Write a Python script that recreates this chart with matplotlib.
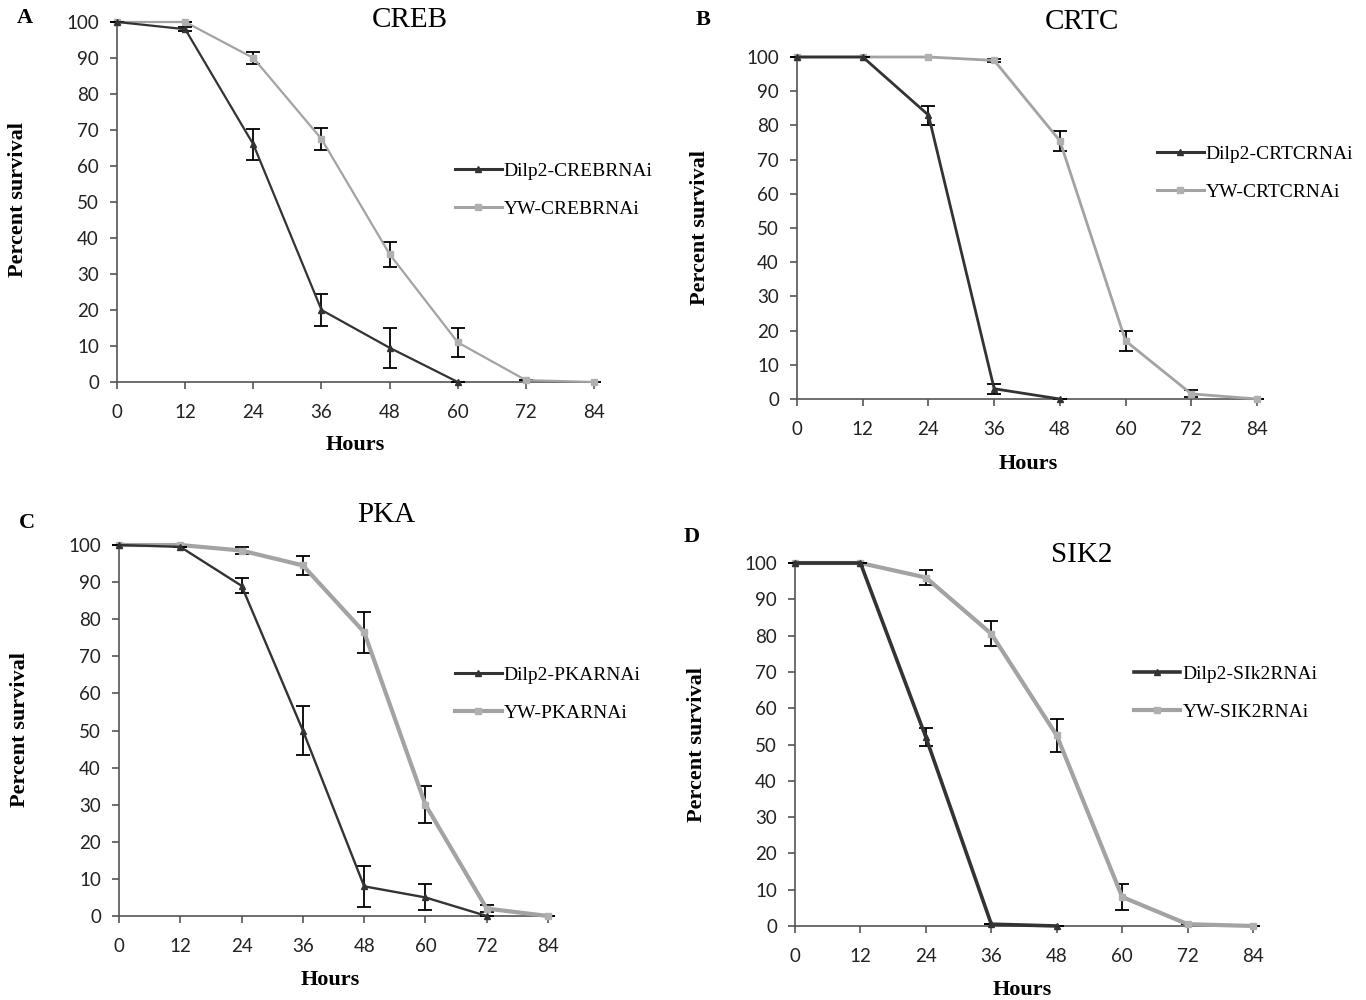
import matplotlib.pyplot as plt
from matplotlib.lines import Line2D

# Datos (horas y porcentaje de supervivencia)
horas = [0, 12, 24, 36, 48, 60, 72, 84]
ticks_y = [0, 10, 20, 30, 40, 50, 60, 70, 80, 90, 100]

# Panel A: CREB
creb_dilp2 = [100, 98, 66, 20, 9.5, 0]
creb_dilp2_err = [0, 0.5, 4.3, 4.5, 5.5, 0]
creb_yw = [100, 100, 90, 67.5, 35.5, 11, 0.5, 0]
creb_yw_err = [0, 0, 1.8, 3, 3.5, 4, 0, 0]

# Panel B: CRTC
crtc_dilp2 = [100, 100, 83, 3, 0]
crtc_dilp2_err = [0, 0, 2.8, 1.5, 0]
crtc_yw = [100, 100, 100, 99, 75.5, 17, 1.5, 0]
crtc_yw_err = [0, 0, 0, 0.5, 3, 3, 1, 0]

# Panel C: PKA
pka_dilp2 = [100, 99.5, 89, 50, 8, 5, 0]
pka_dilp2_err = [0, 0, 2, 6.5, 5.5, 3.5, 0]
pka_yw = [100, 100, 98.5, 94.5, 76.5, 30, 2, 0]
pka_yw_err = [0, 0, 1, 2.5, 5.5, 5, 1, 0]

# Panel D: SIK2
sik2_dilp2 = [100, 100, 52, 0.5, 0]
sik2_dilp2_err = [0, 0, 2.5, 0, 0]
sik2_yw = [100, 100, 96, 80.5, 52.5, 8, 0.5, 0]
sik2_yw_err = [0, 0, 2, 3.5, 4.5, 3.5, 0, 0]

serif = ['Liberation Serif', 'DejaVu Serif']
sans = ['Lato', 'DejaVu Sans']
oscuro = '#333333'
claro = '#a3a3a3'

fig = plt.figure(figsize=(13.66, 10), dpi=100)

paneles = [
    # (pos ejes, letra, pos letra, titulo, pos titulo, pos ylabel, pos xlabel, pos leyenda,
    #  datos dilp2, err, datos yw, err, etiquetas, grosor oscuro, grosor claro)
    ([0.0857, 0.618, 0.3492, 0.360], 'A', (0.0183, 0.982), 'CREB', (0.300, 0.980),
     (0.0132, 0.80), (0.260, 0.555), (0.333, 0.838),
     creb_dilp2, creb_dilp2_err, creb_yw, creb_yw_err,
     ('Dilp2-CREBRNAi', 'YW-CREBRNAi'), 1.6, 1.6),
    ([0.5835, 0.601, 0.3367, 0.342], 'B', (0.5146, 0.980), 'CRTC', (0.792, 0.978),
     (0.5124, 0.772), (0.7526, 0.536), (0.847, 0.855),
     crtc_dilp2, crtc_dilp2_err, crtc_yw, crtc_yw_err,
     ('Dilp2-CRTCRNAi', 'YW-CRTCRNAi'), 2.0, 2.0),
    ([0.0871, 0.084, 0.3141, 0.371], 'C', (0.0198, 0.477), 'PKA', (0.2826, 0.485),
     (0.0146, 0.27), (0.2416, 0.020), (0.333, 0.334),
     pka_dilp2, pka_dilp2_err, pka_yw, pka_yw_err,
     ('Dilp2-PKARNAi', 'YW-PKARNAi'), 1.7, 3.0),
    ([0.5820, 0.074, 0.3353, 0.363], 'D', (0.5066, 0.463), 'SIK2', (0.792, 0.445),
     (0.510, 0.255), (0.748, 0.010), (0.830, 0.335),
     sik2_dilp2, sik2_dilp2_err, sik2_yw, sik2_yw_err,
     ('Dilp2-SIk2RNAi', 'YW-SIK2RNAi'), 2.6, 3.0),
]

for (pos, letra, pos_letra, titulo, pos_titulo, pos_ylab, pos_xlab, pos_leg,
     d1, e1, d2, e2, etiquetas, lw1, lw2) in paneles:
    ax = fig.add_axes(pos)
    # Serie YW (gris claro, cuadrados)
    ax.errorbar(horas[:len(d2)], d2, yerr=e2, color=claro, lw=lw2,
                marker='s', ms=5, mfc='#b0b0b0', mec='#b0b0b0',
                ecolor='black', elinewidth=1.3, capsize=5, capthick=1.3,
                clip_on=False, zorder=3)
    # Serie Dilp2 (oscuro, triangulos)
    ax.errorbar(horas[:len(d1)], d1, yerr=e1, color=oscuro, lw=lw1,
                marker='^', ms=5, mfc=oscuro, mec=oscuro,
                ecolor='black', elinewidth=1.3, capsize=5, capthick=1.3,
                clip_on=False, zorder=4)

    ax.set_xlim(0, 84)
    ax.set_ylim(0, 100)
    ax.set_xticks(horas)
    ax.set_yticks(ticks_y)
    for s in ['top', 'right']:
        ax.spines[s].set_visible(False)
    for s in ['left', 'bottom']:
        ax.spines[s].set_color('#555555')
        ax.spines[s].set_linewidth(1.2)
    ax.tick_params(axis='y', direction='out', length=5, width=1.2, color='#555555',
                   pad=8, labelsize=13.5)
    ax.tick_params(axis='x', direction='out', length=5, width=1.2, color='#555555',
                   pad=11, labelsize=13.5)
    for t in ax.get_xticklabels() + ax.get_yticklabels():
        t.set_family(sans)
        t.set_color('#222222')

    # Leyenda sin barras de error
    h1 = Line2D([], [], color=oscuro, lw=max(lw1, 2.2), marker='^', ms=5,
                mfc=oscuro, mec=oscuro)
    h2 = Line2D([], [], color=claro, lw=max(lw2, 2.2), marker='s', ms=5,
                mfc='#b0b0b0', mec='#b0b0b0')
    fig.legend([h1, h2], list(etiquetas), loc='upper left', bbox_to_anchor=pos_leg,
               frameon=False, prop={'family': serif, 'size': 14},
               handlelength=2.4, handletextpad=0.1, labelspacing=1.05,
               borderpad=0, borderaxespad=0)

    fig.text(pos_letra[0], pos_letra[1], letra, family=serif, weight='bold',
             size=16, ha='center', va='center')
    fig.text(pos_titulo[0], pos_titulo[1], titulo, family=serif, size=21,
             ha='center', va='center')
    fig.text(pos_ylab[0], pos_ylab[1], 'Percent survival', family=serif,
             weight='bold', size=16, rotation=90, ha='center', va='center')
    fig.text(pos_xlab[0], pos_xlab[1], 'Hours', family=serif, weight='bold',
             size=16, ha='center', va='center')

plt.savefig('out.png', dpi=100)
